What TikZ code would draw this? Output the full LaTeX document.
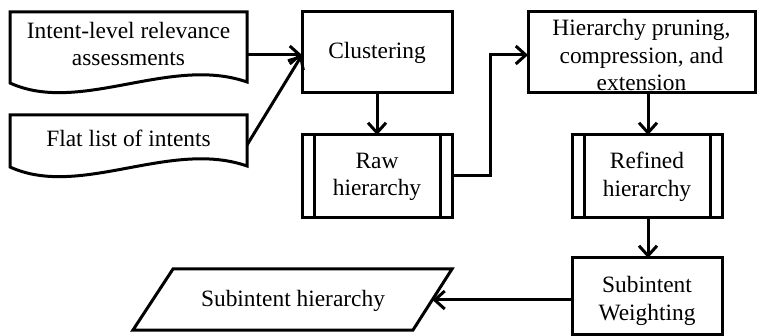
\documentclass[tikz,border=0pt]{standalone}
\usepackage{fontspec}
\setmainfont{Liberation Serif}
\usetikzlibrary{arrows.meta}
\begin{document}
\begin{tikzpicture}[x=1pt,y=-1pt,
  line width=3pt,
  conn/.style={-{Straight Barb[length=10pt,width=18pt,line width=3pt]}, line join=miter},
  lbl/.style={font=\fontsize{23.4}{27.5}\selectfont, align=center, inner sep=0pt}]
\useasboundingbox (0,0) rectangle (757,336);
% documents
\draw (10,12) -- (247,12) -- (247,82) .. controls (170,55) and (80,115) .. (10,83) -- cycle;
\node[lbl] (doc1) at (128.5,44) {Intent-level relevance\\assessments};
\coordinate (doc1r) at (247,55);
\draw (10,115) -- (247,115) -- (247,166) .. controls (170,139) and (80,199) .. (10,167) -- cycle;
\node[lbl] (doc2) at (128.5,138) {Flat list of intents};
\coordinate (doc2r) at (247,145);
% clustering
\draw (302,12) rectangle (452,93);
\node[lbl] (clus) at (377,53) {Clustering};
\coordinate (clusl) at (302,55);
\coordinate (clusb) at (377,93);
% raw hierarchy
\draw (302,135) rectangle (452,218);
\draw (314,135) -- (314,218) (440,135) -- (440,218);
\node[lbl] (raw) at (377,177) {Raw\\hierarchy};
\coordinate (rawt) at (377,135);
\coordinate (rawr) at (452,176);
% hierarchy pruning
\draw (528,12) rectangle (755,93);
\node[lbl] (prune) at (641.5,55) {Hierarchy pruning,\\compression, and\\extension};
\coordinate (prunel) at (528,55);
\coordinate (pruneb) at (648,93);
% refined
\draw (572,135) rectangle (722,218);
\draw (584,135) -- (584,218) (710,135) -- (710,218);
\node[lbl] (ref) at (647,177) {Refined\\hierarchy};
\coordinate (reft) at (648,135);
\coordinate (refb) at (648,218);
% subintent weighting
\draw (572,258) rectangle (722,334);
\node[lbl] (sw) at (647,301) {Subintent\\Weighting};
\coordinate (swt) at (648,258);
\coordinate (swl) at (572,300);
% output parallelogram
\draw (173,269) -- (452,269) -- (413,330) -- (133,330) -- cycle;
\node[lbl] (out) at (293,301) {Subintent hierarchy};
\coordinate (outr) at (432.5,300);
% connectors
\draw[conn] (doc1r) -- (clusl);
\draw[conn] (doc2r) -- (clusl);
\draw[conn] (clusb) -- (rawt);
\draw[conn] (rawr) -- (490,176) -- (490,55) -- (prunel);
\draw[conn] (pruneb) -- (reft);
\draw[conn] (refb) -- (swt);
\draw[conn] (swl) -- (outr);
\end{tikzpicture}
\end{document}
